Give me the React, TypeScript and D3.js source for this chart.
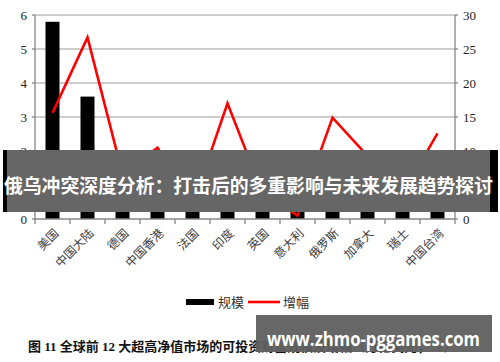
import React from 'react';
import * as d3 from 'd3';

const categories = ['美国', '中国大陆', '德国', '中国香港', '法国', '印度', '英国', '意大利', '俄罗斯', '加拿大', '瑞士', '中国台湾'];
const scale = [5.8, 3.6, 1.38, 0.95, 0.68, 0.58, 0.58, 0.48, 0.48, 0.48, 0.38, 0.38];
const growth = [15.6, 26.7, 6.6, 10.5, 2.0, 17.0, 3.8, 0.5, 14.9, 9.3, 3.7, 12.6];
const leftTicks = [0, 1, 2, 3, 4, 5, 6];
const rightTicks = [0, 5, 10, 15, 20, 25, 30];

const W = 500;
const H = 362;
const margin = { top: 15, right: 45, bottom: 143, left: 35 };

const cjk = '"Noto Sans CJK SC", sans-serif';
const serif = '"Liberation Serif", "DejaVu Serif", serif';

export default function App() {
    const x = d3.scaleBand<string>()
        .domain(categories)
        .range([margin.left, W - margin.right])
        .paddingInner(0.6)
        .paddingOuter(0.3);

    const yL = d3.scaleLinear().domain([0, 6]).range([H - margin.bottom, margin.top]);
    const yR = d3.scaleLinear().domain([0, 30]).range([H - margin.bottom, margin.top]);

    const cx = (c: string) => (x(c) as number) + x.bandwidth() / 2;
    const step = x.step();
    const x0 = margin.left;
    const x1 = W - margin.right;
    const yBase = yL(0);

    const line = d3.line<number>()
        .x((d, i) => cx(categories[i]))
        .y(d => yR(d));

    // category boundaries for bottom ticks
    const bounds = d3.range(categories.length + 1).map(i => x0 + i * step);

    return (
        <svg width={W} height={H} style={{ position: 'absolute', left: 0, top: 0, background: '#fff' }}>
            {/* gridlines */}
            {leftTicks.filter(t => t > 0).map(t => (
                <line key={'g' + t} x1={x0} x2={x1} y1={yL(t)} y2={yL(t)} stroke="#bdbdbd" strokeWidth={1.5} />
            ))}

            {/* bars */}
            {categories.map((c, i) => (
                <rect key={c} x={x(c)} y={yL(scale[i])} width={x.bandwidth()} height={yBase - yL(scale[i])} fill="#000" />
            ))}

            {/* axes */}
            <line x1={x0} x2={x0} y1={margin.top} y2={yBase} stroke="#868686" strokeWidth={1.3} />
            <line x1={x1} x2={x1} y1={margin.top} y2={yBase} stroke="#868686" strokeWidth={1.3} />
            <line x1={x0} x2={x1} y1={yBase} y2={yBase} stroke="#868686" strokeWidth={1.5} />
            {bounds.map((b, i) => (
                <line key={'bt' + i} x1={b} x2={b} y1={yBase} y2={yBase + 5} stroke="#868686" strokeWidth={1.3} />
            ))}
            {leftTicks.map(t => (
                <g key={'l' + t}>
                    <line x1={x0 - 3} x2={x0} y1={yL(t)} y2={yL(t)} stroke="#868686" strokeWidth={1.3} />
                    <text x={27} y={yL(t)} dy="0.35em" textAnchor="end" fontFamily={serif} fontSize={13} fill="#222">{t}</text>
                </g>
            ))}
            {rightTicks.map(t => (
                <g key={'r' + t}>
                    <line x1={x1} x2={x1 + 3} y1={yR(t)} y2={yR(t)} stroke="#868686" strokeWidth={1.3} />
                    <text x={463} y={yR(t)} dy="0.35em" textAnchor="start" fontFamily={serif} fontSize={13} fill="#222">{t}</text>
                </g>
            ))}

            {/* growth line */}
            <path d={line(growth) || ''} fill="none" stroke="#ff0000" strokeWidth={2.6} strokeLinejoin="miter" />

            {/* category labels */}
            {categories.map(c => (
                <text key={'c' + c} transform={`translate(${cx(c) + 4},${yBase + 12}) rotate(-45)`}
                    textAnchor="end" dy="0.35em" fontFamily={cjk} fontSize={12} fill="#404040">{c}</text>
            ))}

            {/* legend */}
            <rect x={186} y={299} width={28} height={6} fill="#000" />
            <text x={218} y={302} dy="0.35em" fontFamily={cjk} fontSize={13} fill="#333">规模</text>
            <line x1={248} x2={280} y1={302} y2={302} stroke="#ff0000" strokeWidth={2.6} />
            <text x={283} y={302} dy="0.35em" fontFamily={cjk} fontSize={13} fill="#333">增幅</text>

            {/* caption */}
            <text x={28} y={351} fontFamily={`${serif}, ${cjk}`} fontWeight="bold" fontSize={13} fill="#111">
                图 11  全球前 12 大超高净值市场的可投资财富规模及增幅（万亿美元，%）
            </text>

            {/* overlay banner */}
            <rect x={3} y={150} width={495} height={62} fill="#000" />
            <rect x={7} y={150} width={483} height={62} fill="#fff" fillOpacity={0.4} />
            <text x={4} y={186} dy="0.35em" textLength={489} lengthAdjust="spacingAndGlyphs"
                fontFamily={cjk} fontWeight="bold" fontSize={19} fill="#fff">
                俄乌冲突深度分析：打击后的多重影响与未来发展趋势探讨
            </text>

            {/* watermark */}
            <rect x={256} y={315} width={236} height={37} fill="#5f5f5f" fillOpacity={0.95} />
            <text x={267} y={339} dy="0.35em" textLength={213} lengthAdjust="spacingAndGlyphs"
                fontFamily='"Open Sans", "Noto Sans", sans-serif' fontWeight="bold" fontSize={19} fill="#fff">
                www.zhmo-pggames.com
            </text>
        </svg>
    );
}
